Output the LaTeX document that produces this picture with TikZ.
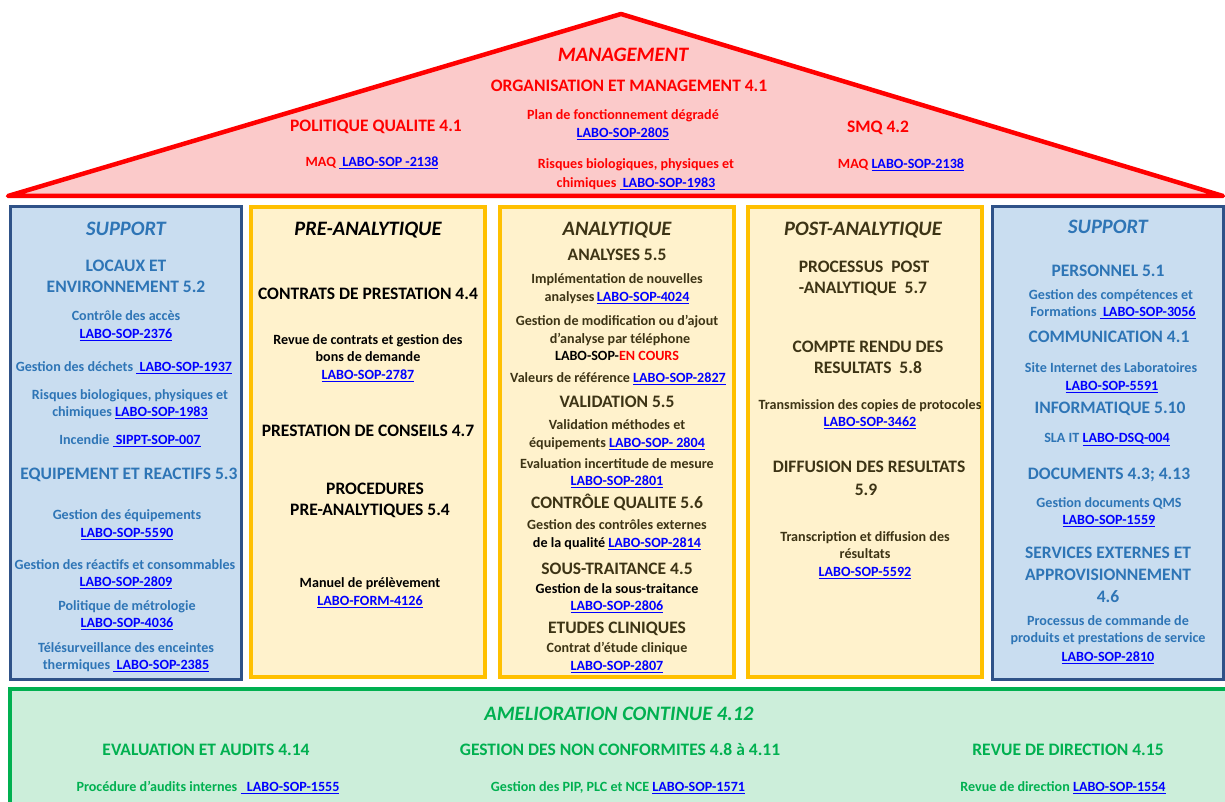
\documentclass[tikz,border=0pt]{standalone}
\usepackage{fontspec}
\setmainfont{Carlito}
\definecolor{mred}{HTML}{FF0000}
\definecolor{mfill}{HTML}{FBCACA}
\definecolor{sblue}{HTML}{2E75B6}
\definecolor{sborder}{HTML}{2F5288}
\definecolor{sfill}{HTML}{C9DDF0}
\definecolor{ygold}{HTML}{FFC000}
\definecolor{yfill}{HTML}{FFF2CC}
\definecolor{gline}{HTML}{00B050}
\definecolor{gfill}{HTML}{CCEEDA}
\definecolor{lnk}{HTML}{0000FF}
\definecolor{atext}{HTML}{3D3415}
\newcommand\lk[1]{\textcolor{lnk}{\underline{#1}}}
\tikzset{
  T/.style={anchor=mid,inner sep=0pt,yshift=-4.5pt,font=\fontsize{20.5}{24}\selectfont\bfseries\itshape},
  H/.style={anchor=mid,inner sep=0pt,yshift=-3.5pt,font=\fontsize{17.5}{21}\selectfont\bfseries},
  S/.style={anchor=mid,inner sep=0pt,yshift=-3pt,font=\fontsize{14.1}{17}\selectfont\bfseries},
  sbox/.style={line width=3pt,draw=sborder,fill=sfill},
  ybox/.style={line width=3.5pt,draw=ygold,fill=yfill},
}
\begin{document}
\begin{tikzpicture}[x=1pt,y=-1pt]
\clip (0,0) rectangle (1225,802);
\path[use as bounding box] (0,0) rectangle (1225,802);
\fill[white] (0,0) rectangle (1225,802);
% roof
\draw[line width=4.5pt,draw=mred,fill=mfill,line join=round] (8,196) -- (621,14) -- (1223,196) -- cycle;
% columns
\draw[sbox] (10,207) rectangle (241,679);
\draw[ybox] (251,207) rectangle (485,677);
\draw[ybox] (500,207) rectangle (734,677);
\draw[ybox] (748,207) rectangle (982,677);
\draw[sbox] (992,207) rectangle (1223,679);
% base
\draw[line width=3.5pt,draw=gline,fill=gfill] (10,689) rectangle (1240,830);

% management
\node[T,text=mred] (mgt) at (623,55) {MANAGEMENT};
\node[H,text=mred] (org) at (629,86) {ORGANISATION ET MANAGEMENT 4.1};
\node[S,text=mred] (plan) at (623,114) {Plan de fonctionnement dégradé};
\node[S] (plan2) at (623,132) {\lk{LABO-SOP-2805}};
\node[H,text=mred] (pol) at (376,126) {POLITIQUE QUALITE 4.1};
\node[H,text=mred] (smq) at (878,127) {SMQ 4.2};
\node[S,text=mred] (maq1) at (372,161) {MAQ \lk{\ LABO-SOP -2138}};
\node[S,text=mred] (risq1) at (636,163) {Risques biologiques, physiques et};
\node[S,text=mred] (risq2) at (636,182) {chimiques \lk{\ LABO-SOP-1983}};
\node[S,text=mred] (maq2) at (901,163) {MAQ \lk{LABO-SOP-2138}};

% left support
\node[T,text=sblue] (s1t) at (126,229) {SUPPORT};
\node[H,text=sblue] (loc1) at (126,266) {LOCAUX ET};
\node[H,text=sblue] (loc2) at (126,287) {ENVIRONNEMENT 5.2};
\node[S,text=sblue] (acc1) at (126,315) {Contrôle des accès};
\node[S] (acc2) at (126,333) {\lk{LABO-SOP-2376}};
\node[S,text=sblue] (dech) at (124,366) {Gestion des déchets \lk{\ LABO-SOP-1937}};
\node[S,text=sblue] (rb1) at (130,394) {Risques biologiques, physiques et};
\node[S,text=sblue] (rb2) at (130,411) {chimiques \lk{LABO-SOP-1983}};
\node[S,text=sblue] (inc) at (130,439) {Incendie \lk{\ SIPPT-SOP-007}};
\node[H,text=sblue] (eq) at (129,474) {EQUIPEMENT ET REACTIFS 5.3};
\node[S,text=sblue] (geq1) at (127,514) {Gestion des équipements};
\node[S] (geq2) at (127,532) {\lk{LABO-SOP-5590}};
\node[S,text=sblue] (gr1) at (125,564) {Gestion des réactifs et consommables};
\node[S] (gr2) at (126,581) {\lk{LABO-SOP-2809}};
\node[S,text=sblue] (met1) at (127,605) {Politique de métrologie};
\node[S] (met2) at (127,622) {\lk{LABO-SOP-4036}};
\node[S,text=sblue] (tel1) at (126,647) {Télésurveillance des enceintes};
\node[S,text=sblue] (tel2) at (126,664) {thermiques \lk{\ LABO-SOP-2385}};

% pre-analytique
\node[T] (pt) at (368,229) {PRE-ANALYTIQUE};
\node[H] (cp) at (368,294) {CONTRATS DE PRESTATION 4.4};
\node[S] (rc1) at (368,339) {Revue de contrats et gestion des};
\node[S] (rc2) at (368,356) {bons de demande};
\node[S] (rc3) at (368,374) {\lk{LABO-SOP-2787}};
\node[H] (pc) at (368,431) {PRESTATION DE CONSEILS 4.7};
\node[H] (pr1) at (375,489) {PROCEDURES};
\node[H] (pr2) at (370,510) {PRE-ANALYTIQUES 5.4};
\node[S] (mp1) at (370,582) {Manuel de prélèvement};
\node[S] (mp2) at (370,600) {\lk{LABO-FORM-4126}};

% analytique
\node[T,text=atext] (at) at (617,229) {ANALYTIQUE};
\node[H,text=atext] (an) at (617,255) {ANALYSES 5.5};
\node[S,text=atext] (im1) at (617,278) {Implémentation de nouvelles};
\node[S,text=atext] (im2) at (617,296) {analyses\,\lk{LABO-SOP-4024}};
\node[S,text=atext] (gm1) at (617,320) {Gestion de modification ou d’ajout};
\node[S,text=atext] (gm2) at (620,338) {d’analyse par téléphone};
\node[S] (gm3) at (617,355) {LABO-SOP-\textcolor{red}{EN COURS}};
\node[S,text=atext] (vr) at (618,377) {Valeurs de référence \lk{LABO-SOP-2827}};
\node[H,text=atext] (va) at (617,402) {VALIDATION 5.5};
\node[S,text=atext] (vm1) at (617,424) {Validation méthodes et};
\node[S,text=atext] (vm2) at (617,442) {équipements \lk{LABO-SOP- 2804}};
\node[S,text=atext] (ev1) at (617,463) {Evaluation incertitude de mesure};
\node[S] (ev2) at (617,480) {\lk{LABO-SOP-2801}};
\node[H,text=atext] (cq) at (617,503) {CONTRÔLE QUALITE 5.6};
\node[S,text=atext] (gc1) at (617,524) {Gestion des contrôles externes};
\node[S] (gc2) at (617,542) {de la qualité \lk{LABO-SOP-2814}};
\node[H,text=atext] (st) at (617,569) {SOUS-TRAITANCE 4.5};
\node[S] (gs1) at (617,588) {Gestion de la sous-traitance};
\node[S] (gs2) at (617,605) {\lk{LABO-SOP-2806}};
\node[H,text=atext] (ec) at (617,628) {ETUDES CLINIQUES};
\node[S,text=atext] (ce1) at (617,647) {Contrat d’étude clinique};
\node[S] (ce2) at (617,665) {\lk{LABO-SOP-2807}};

% post-analytique
\node[T,text=atext] (pot) at (863,229) {POST-ANALYTIQUE};
\node[H,text=atext] (pp1) at (864,267) {PROCESSUS\ \ POST};
\node[H,text=atext] (pp2) at (863,288) {-ANALYTIQUE\ \ 5.7};
\node[H,text=atext] (cr1) at (868,347) {COMPTE RENDU DES};
\node[H,text=atext] (cr2) at (868,368) {RESULTATS\ \ 5.8};
\node[S,text=atext] (tr1) at (870,404) {Transmission des copies de protocoles};
\node[S] (tr2) at (870,421) {\lk{LABO-SOP-3462}};
\node[H,text=atext] (df1) at (869,467) {DIFFUSION DES RESULTATS};
\node[H,text=atext] (df2) at (866,490) {5.9};
\node[S,text=atext] (td1) at (865,536) {Transcription et diffusion des};
\node[S,text=atext] (td2) at (865,553) {résultats};
\node[S] (td3) at (865,571) {\lk{LABO-SOP-5592}};

% right support
\node[T,text=sblue] (s2t) at (1108,227) {SUPPORT};
\node[H,text=sblue] (pe) at (1108,271) {PERSONNEL 5.1};
\node[S,text=sblue] (gcp1) at (1111,294) {Gestion des compétences et};
\node[S,text=sblue] (gcp2) at (1113,311) {Formations \lk{\ LABO-SOP-3056}};
\node[H,text=sblue] (com) at (1109,337) {COMMUNICATION 4.1};
\node[S,text=sblue] (si1) at (1111,367) {Site Internet des Laboratoires};
\node[S] (si2) at (1112,385) {\lk{LABO-SOP-5591}};
\node[H,text=sblue] (inf) at (1110,408) {INFORMATIQUE 5.10};
\node[S,text=sblue] (sla) at (1107,437) {SLA IT \lk{LABO-DSQ-004}};
\node[H,text=sblue] (doc) at (1109,474) {DOCUMENTS 4.3; 4.13};
\node[S,text=sblue] (gd1) at (1109,502) {Gestion documents QMS};
\node[S] (gd2) at (1109,519) {\lk{LABO-SOP-1559}};
\node[H,text=sblue] (se1) at (1108,553) {SERVICES EXTERNES ET};
\node[H,text=sblue] (se2) at (1108,575) {APPROVISIONNEMENT};
\node[H,text=sblue] (se3) at (1108,597) {4.6};
\node[S,text=sblue] (pcm1) at (1108,620) {Processus de commande de};
\node[S,text=sblue] (pcm2) at (1108,637) {produits et prestations de service};
\node[S] (pcm3) at (1108,656) {\lk{LABO-SOP-2810}};

% amelioration continue
\node[T,text=gline] (am) at (619,714) {AMELIORATION CONTINUE 4.12};
\node[H,text=gline] (ea) at (206,750) {EVALUATION ET AUDITS 4.14};
\node[H,text=gline] (gnc) at (620,750) {GESTION DES NON CONFORMITES 4.8 à 4.11};
\node[H,text=gline] (rd) at (1068,750) {REVUE DE DIRECTION 4.15};
\node[S,text=gline] (pa) at (208,786) {Procédure d’audits internes \lk{\ \ LABO-SOP-1555}};
\node[S,text=gline] (gp) at (618,786) {Gestion des PIP, PLC et NCE \lk{LABO-SOP-1571}};
\node[S,text=gline] (rv) at (1063,786) {Revue de direction \lk{LABO-SOP-1554}};
\end{tikzpicture}
\end{document}
